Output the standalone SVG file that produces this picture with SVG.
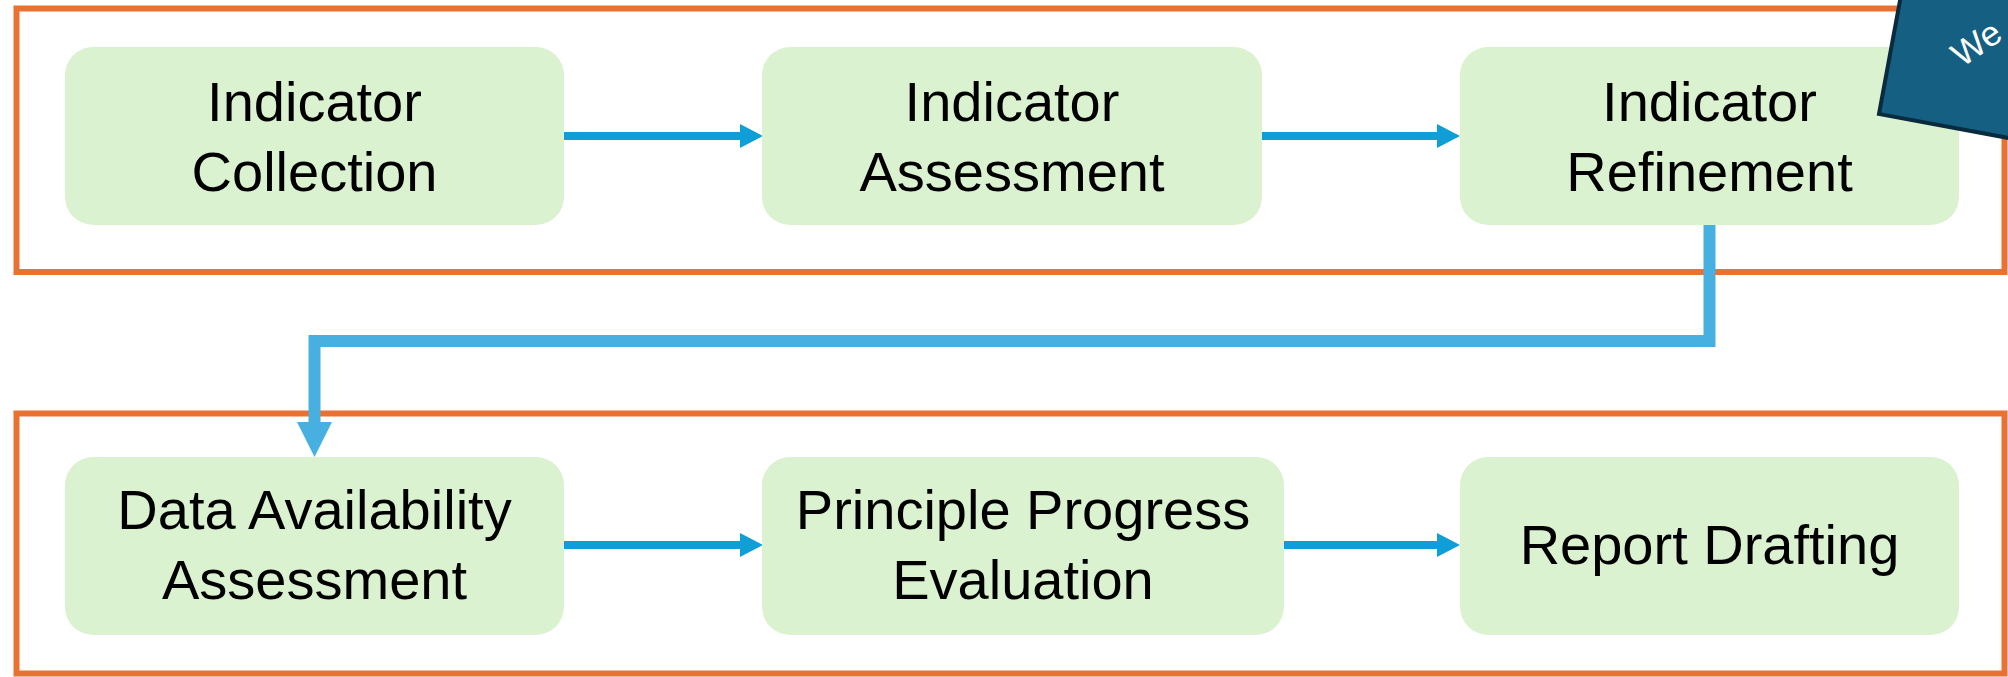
<svg xmlns="http://www.w3.org/2000/svg" width="2008" height="677" viewBox="0 0 2008 677">
<style>
.frame{fill:none;stroke:#E97132;stroke-width:6}
.node rect{fill:#DAF2D0}
.node text{font-family:"Liberation Sans",Arial,sans-serif;font-size:56px;fill:#000;text-anchor:middle}
.flow line{stroke:#0F9ED5;stroke-width:8}
.flow polygon{fill:#0F9ED5}
.loop{fill:none;stroke:#48B0E0;stroke-width:12;stroke-linejoin:miter}
</style>
<rect width="2008" height="677" fill="#fff"/>
<rect class="frame" x="16.5" y="8.5" width="1988" height="263.5"/>
<rect class="frame" x="16.5" y="413.5" width="1988" height="260"/>
<g id="connectors">
  <g class="flow">
    <line x1="564" y1="136" x2="742" y2="136"/>
    <polygon points="740,124 763,136 740,148"/>
    <line x1="1262" y1="136" x2="1438" y2="136"/>
    <polygon points="1437,124 1460,136 1437,148"/>
    <line x1="564" y1="545" x2="742" y2="545"/>
    <polygon points="740,533 763,545 740,557"/>
    <line x1="1284" y1="545" x2="1438" y2="545"/>
    <polygon points="1437,533 1460,545 1437,557"/>
  </g>
  <polyline class="loop" points="1709.5,224 1709.5,341 314.5,341 314.5,424"/>
  <polygon points="297,422 332,422 314.5,457" fill="#48B0E0"/>
</g>
<g id="n1" class="node">
  <rect x="65" y="47" width="499" height="178" rx="28"/>
  <text x="314.5" y="121">Indicator</text>
  <text x="314.5" y="191">Collection</text>
</g>
<g id="n2" class="node">
  <rect x="762" y="47" width="500" height="178" rx="28"/>
  <text x="1012" y="121">Indicator</text>
  <text x="1012" y="191">Assessment</text>
</g>
<g id="n3" class="node">
  <rect x="1460" y="47" width="499" height="178" rx="28"/>
  <text x="1709.5" y="121">Indicator</text>
  <text x="1709.5" y="191">Refinement</text>
</g>
<g id="n4" class="node">
  <rect x="65" y="457" width="499" height="178" rx="28"/>
  <text x="314.5" y="529">Data Availability</text>
  <text x="314.5" y="599">Assessment</text>
</g>
<g id="n5" class="node">
  <rect x="762" y="457" width="522" height="178" rx="28"/>
  <text x="1023" y="529">Principle Progress</text>
  <text x="1023" y="599">Evaluation</text>
</g>
<g id="n6" class="node">
  <rect x="1460" y="457" width="499" height="178" rx="28"/>
  <text x="1709.5" y="564">Report Drafting</text>
</g>
<g id="note">
  <g transform="translate(1879,114) rotate(10.5)">
    <rect x="0" y="-220" width="320" height="220" fill="#156082" stroke="#0A2A3E" stroke-width="4"/>
  </g>
  <text x="1962" y="68" transform="rotate(-35 1962 68)" font-family="Liberation Sans,Arial,sans-serif" font-size="35" fill="#fff">We</text>
</g>
</svg>
